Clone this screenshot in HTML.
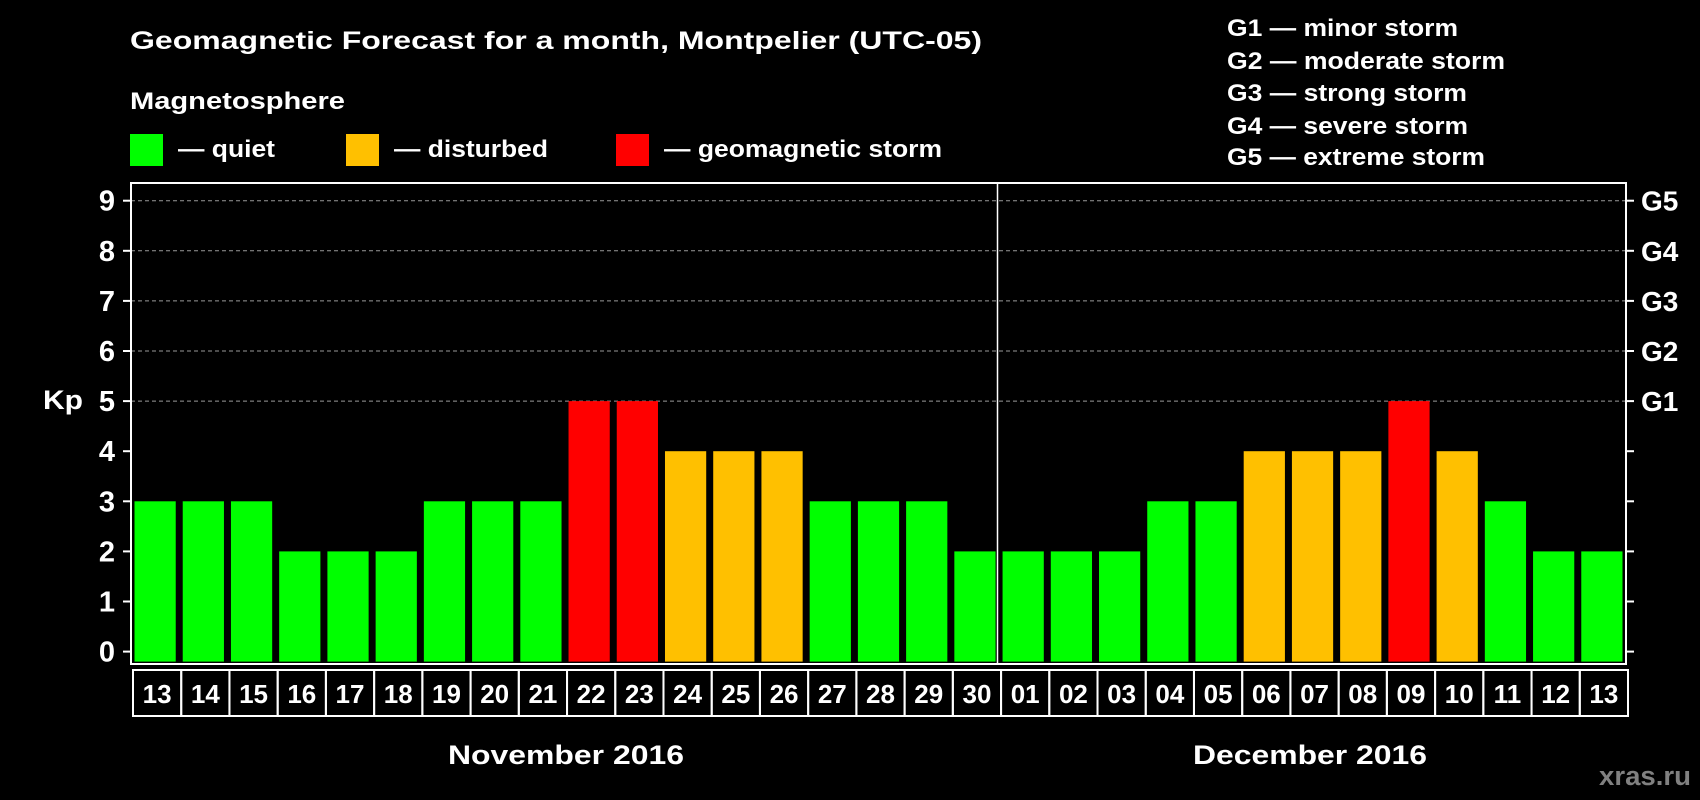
<!DOCTYPE html>
<html><head><meta charset="utf-8"><style>
html,body{margin:0;padding:0;background:#000;}
svg{display:block;font-family:"Liberation Sans",sans-serif;font-weight:bold;}
</style></head><body>
<svg id="chart" width="1700" height="800" viewBox="0 0 1700 800">
<rect width="1700" height="800" fill="#000"/>
<text x="130" y="49" fill="#fff" font-size="25" textLength="852" lengthAdjust="spacingAndGlyphs">Geomagnetic Forecast for a month, Montpelier (UTC-05)</text>
<text x="130" y="109" fill="#fff" font-size="24" textLength="215" lengthAdjust="spacingAndGlyphs">Magnetosphere</text>
<rect x="130" y="134" width="33" height="32" fill="#00ff00"/>
<text x="178" y="157" fill="#fff" font-size="24" textLength="97" lengthAdjust="spacingAndGlyphs">— quiet</text>
<rect x="346" y="134" width="33" height="32" fill="#ffc000"/>
<text x="394" y="157" fill="#fff" font-size="24" textLength="154" lengthAdjust="spacingAndGlyphs">— disturbed</text>
<rect x="616" y="134" width="33" height="32" fill="#ff0000"/>
<text x="664" y="157" fill="#fff" font-size="24" textLength="278" lengthAdjust="spacingAndGlyphs">— geomagnetic storm</text>
<g fill="#fff" font-size="24">
<text x="1227" y="36" textLength="231" lengthAdjust="spacingAndGlyphs">G1 — minor storm</text>
<text x="1227" y="69" textLength="278" lengthAdjust="spacingAndGlyphs">G2 — moderate storm</text>
<text x="1227" y="101" textLength="240" lengthAdjust="spacingAndGlyphs">G3 — strong storm</text>
<text x="1227" y="134" textLength="241" lengthAdjust="spacingAndGlyphs">G4 — severe storm</text>
<text x="1227" y="165" textLength="258" lengthAdjust="spacingAndGlyphs">G5 — extreme storm</text>
</g>
<text x="63" y="409" fill="#fff" font-size="27" text-anchor="middle" textLength="40" lengthAdjust="spacingAndGlyphs">Kp</text>
<g id="grid"></g>
<g id="bars"></g>
<rect x="131" y="183" width="1495" height="481" fill="none" stroke="#fff" stroke-width="2"/>
<line x1="997.5" y1="183" x2="997.5" y2="664" stroke="#fff" stroke-width="1.5"/>
<g id="axes"></g>
<text x="566" y="764" fill="#fff" font-size="27" text-anchor="middle" textLength="236" lengthAdjust="spacingAndGlyphs">November 2016</text>
<text x="1310" y="764" fill="#fff" font-size="27" text-anchor="middle" textLength="234" lengthAdjust="spacingAndGlyphs">December 2016</text>
<text x="1691" y="785" fill="#808080" font-size="27" text-anchor="end" textLength="92" lengthAdjust="spacingAndGlyphs">xras.ru</text>
</svg>
<script>
const days = ["13","14","15","16","17","18","19","20","21","22","23","24","25","26","27","28","29","30","01","02","03","04","05","06","07","08","09","10","11","12","13"];
const kpValues = [3,3,3,2,2,2,3,3,3,5,5,4,4,4,3,3,3,2,2,2,2,3,3,4,4,4,5,4,3,2,2];
const yTicks = [0,1,2,3,4,5,6,7,8,9];
const gLabels = ["G1","G2","G3","G4","G5"];
const gLevels = [5,6,7,8,9];

const NS="http://www.w3.org/2000/svg";
const X0=131, X1=1626, Y0=651.6, YU=50.1;
const slot=(X1-X0)/days.length;
function yScale(v){return Y0-v*YU;}
function xScale(i){return X0+i*slot;}
function color(v){return v>=5?"#ff0000":(v>=4?"#ffc000":"#00ff00");}
function mk(tag,attrs,parent){const e=document.createElementNS(NS,tag);for(const k in attrs)e.setAttribute(k,attrs[k]);parent.appendChild(e);return e;}

const grid=document.getElementById("grid"), bars=document.getElementById("bars"), axes=document.getElementById("axes");
gLevels.forEach((lv,i)=>{
  const l=mk("line",{x1:X0,x2:X1,y1:yScale(lv),y2:yScale(lv),stroke:"#999","stroke-dasharray":"4,3","stroke-width":1},grid);
  
  
  const t=mk("text",{x:1641,y:yScale(lv)+10,fill:"#fff","font-size":28},axes);
  t.textContent=gLabels[i];
  
  
});
yTicks.forEach(v=>{
  const tl=mk("line",{x1:X0-8,x2:X0,y1:yScale(v),y2:yScale(v),stroke:"#fff","stroke-width":2},axes);
  
  
  const tr=mk("line",{x1:X1,x2:X1+8,y1:yScale(v),y2:yScale(v),stroke:"#fff","stroke-width":2},axes);
  
  
  const t=mk("text",{x:107,y:yScale(v)+10,fill:"#fff","font-size":29,"text-anchor":"middle"},axes);
  t.textContent=v;
  
  
});
kpValues.forEach((v,i)=>{
  const x=xScale(i)+3.5;
  const r=mk("rect",{x:x,y:yScale(v),width:slot-7,height:v*YU+10,fill:color(v)},bars);
  
  
  const b=mk("rect",{x:xScale(i)+2,y:670,width:slot,height:46,fill:"none",stroke:"#fff","stroke-width":2},axes);
  
  
  const t=mk("text",{x:xScale(i)+2+slot/2,y:703,fill:"#fff","font-size":26,"text-anchor":"middle"},axes);
  t.textContent=days[i];
  
  
});
</script>
</body></html>
